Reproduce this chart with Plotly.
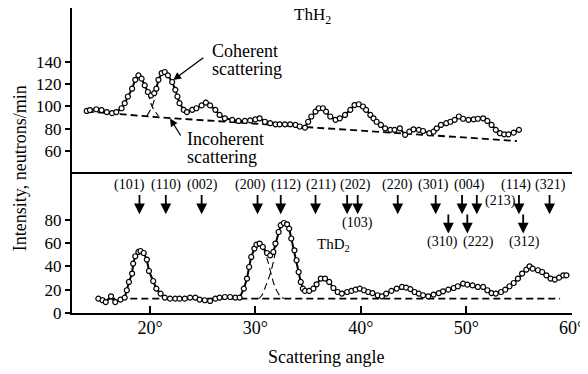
import plotly.graph_objects as go

# ThH2 pattern (upper panel)
thh2_angle = [14.0, 14.3, 14.9, 15.4, 15.9, 16.4, 16.8, 17.3, 17.6, 17.9, 18.3, 18.6,
              18.9, 19.2, 19.5, 19.8, 20.1, 20.4, 20.6, 20.8, 21.1, 21.4, 21.7, 22.1,
              22.4, 22.6, 22.8, 23.2, 23.5, 24.0, 24.4, 24.9, 25.3, 25.7, 26.2, 26.6,
              27.1, 27.8, 28.4, 29.0, 29.5, 30.0, 30.4, 30.9, 31.4, 31.9, 32.3, 32.8,
              33.3, 33.8, 34.2, 34.7, 35.0, 35.3, 35.7, 36.0, 36.4, 36.7, 37.1, 37.6,
              38.0, 38.5, 39.0, 39.4, 39.8, 40.2, 40.5, 40.9, 41.2, 41.5, 41.9, 42.3,
              42.8, 43.2, 43.7, 44.2, 44.6, 45.0, 45.5, 45.9, 46.5, 46.9, 47.2, 47.6,
              48.1, 48.5, 48.9, 49.3, 49.7, 50.2, 50.7, 51.1, 51.6, 52.0, 52.4, 52.8,
              53.2, 53.6, 54.0, 54.5, 55.0]
thh2_count = [96, 96.8, 97.5, 96.8, 95, 94, 95, 98.4, 103, 109, 116, 124,
              128, 125, 119, 113, 110, 112, 116, 124, 130, 131, 128, 122,
              115, 109, 103, 97, 95, 97, 98.4, 101, 103.5, 101, 97, 92.4,
              89.4, 88, 87, 87, 87.5, 88.5, 89.4, 86.3, 85, 84, 84, 84,
              84, 83.4, 82, 81, 86.3, 91, 95.4, 98.4, 98.4, 95.4, 91, 88,
              89.4, 92.4, 97, 101.3, 102, 100, 97, 92.4, 89.4, 86.3, 83.4, 80.4,
              79, 79, 80.4, 74.5, 77.4, 79.5, 79, 78, 76, 77.4, 80.4, 83.4,
              85, 86.3, 88, 91, 89, 88, 88.5, 89, 89.4, 87, 83.4, 79,
              76, 75, 75, 76.5, 79]
thh2_incoh_angle = [14.0, 21.3, 54.8]
thh2_incoh_count = [95.5, 90, 69]
thh2_peak1_angle = [19.8, 20.2, 20.8]
thh2_peak1_count = [113, 100, 91.5]
thh2_peak2_angle = [19.7, 20.2, 20.6]
thh2_peak2_count = [91.5, 100, 113]

# ThD2 pattern (lower panel)
thd2_angle = [15.1, 15.5, 15.8, 16.3, 16.7, 17.2, 17.6, 17.8, 18.0, 18.3, 18.4, 18.6,
              18.9, 19.1, 19.4, 19.7, 19.9, 20.3, 20.6, 21.0, 21.4, 21.9, 22.4, 22.8,
              23.3, 23.8, 24.3, 24.7, 25.2, 25.7, 26.2, 26.6, 27.1, 27.6, 28.1, 28.5,
              28.9, 29.2, 29.4, 29.6, 29.9, 30.1, 30.4, 30.7, 31.1, 31.4, 31.7, 31.9,
              32.2, 32.4, 32.7, 33.0, 33.2, 33.4, 33.7, 33.9, 34.1, 34.3, 34.5, 34.7,
              35.1, 35.5, 35.8, 36.2, 36.6, 37.0, 37.4, 37.8, 38.2, 38.7, 39.1, 39.5,
              39.9, 40.3, 40.7, 41.1, 41.6, 42.0, 42.4, 42.9, 43.4, 43.9, 44.3, 44.7,
              45.1, 45.5, 45.9, 46.4, 46.9, 47.4, 47.8, 48.3, 48.8, 49.2, 49.7, 50.1,
              50.6, 51.1, 51.6, 52.0, 52.4, 52.8, 53.3, 53.7, 54.1, 54.5, 54.9, 55.3,
              55.7, 56.0, 56.3, 56.8, 57.2, 57.6, 58.0, 58.4, 58.8, 59.2, 59.5]
thd2_count = [12.3, 10.9, 9.4, 14.3, 9.4, 11.5, 13.2, 19.5, 26.6, 33.8, 42.3, 48.6,
              52.3, 53.1, 51.4, 45.8, 36, 27.4, 20.9, 16.6, 13.2, 12.3, 12.3, 12.3,
              12.3, 13.2, 13.2, 11.5, 10.9, 10.3, 12.3, 13.2, 13.7, 13.7, 13.2, 13.2,
              20.9, 29.5, 39.4, 48, 55.2, 58.6, 59.5, 56.6, 51.4, 49.4, 52.3, 59.5,
              69.4, 75.2, 77.1, 76, 72.3, 63.8, 53.7, 45.2, 35.1, 26.6, 20.9, 18.9,
              18.9, 20.9, 24.6, 29.5, 29.5, 26.6, 21.4, 18, 16.6, 18, 18.9, 20,
              20.9, 19.5, 18, 17.1, 15.2, 14.3, 16.6, 18.9, 20.9, 22.3, 21.7, 20.5,
              18, 16.6, 15.2, 14.3, 15.8, 17.1, 18.6, 20, 21.4, 22.9, 25.2, 24.3,
              23.7, 22.3, 22.3, 19.5, 17.1, 16.6, 18, 20, 22.9, 25.7, 29.5, 33.8,
              37.2, 40, 38, 36.6, 35.1, 32.3, 29.5, 28.6, 30.3, 32.3, 32.3]
thd2_incoh_angle = [15.0, 58.9]
thd2_incoh_count = [12.3, 12.3]
thd2_peak1_angle = [30.7, 31.1, 31.45, 31.8, 32.3, 32.7]
thd2_peak1_count = [56.6, 46.6, 35, 23.7, 15, 12.3]
thd2_peak2_angle = [30.3, 30.6, 31.0, 31.45, 31.8, 32.0]
thd2_peak2_count = [12.3, 15, 23.7, 35, 48, 59.5]

# reflections
hkl = ['(101)', '(110)', '(002)', '(200)', '(112)', '(211)', '(202)', '(103)', '(220)',
       '(301)', '(310)', '(004)', '(222)', '(213)', '(114)', '(312)', '(321)']
hkl_angle = [19.0, 21.5, 24.9, 30.2, 32.4, 35.7, 38.7, 39.7, 43.5,
             47.1, 48.3, 49.6, 50.1, 51.0, 55.0, 55.4, 57.9]
hkl_low = [0, 0, 0, 0, 0, 0, 0, 0, 0, 0, 1, 0, 1, 0, 0, 1, 0]
label_x = [18.05, 21.5, 24.95, 29.5, 32.9, 36.25, 39.5, 39.7, 43.5,
           46.9, 47.7, 50.3, 51.2, 53.2, 54.7, 55.5, 58.0]
label_y = [109.4, 109.4, 109.4, 109.4, 109.4, 109.4, 109.4, 76.9, 109.4,
           109.4, 60.8, 109.4, 60.8, 96, 109.4, 60.8, 109.4]

x_ticks = [20, 30, 40, 50, 60]
top_ticks = [60, 80, 100, 120, 140]
bot_ticks = [0, 20, 40, 60, 80]

FONT = 'Liberation Serif, Times New Roman, serif'

fig = go.Figure()


def curve(x, y, xa, ya):
    fig.add_trace(go.Scatter(x=x, y=y, xaxis=xa, yaxis=ya, mode='lines+markers',
                             line=dict(color='black', width=2),
                             marker=dict(symbol='circle', size=5, color='white',
                                         line=dict(color='black', width=1.2)),
                             showlegend=False))


def dashed(x, y, xa, ya, w=1.8, spline=False):
    fig.add_trace(go.Scatter(x=x, y=y, xaxis=xa, yaxis=ya, mode='lines',
                             line=dict(color='black', width=w, dash='7px,4px',
                                       shape='spline' if spline else 'linear'),
                             showlegend=False))


dashed(thh2_incoh_angle, thh2_incoh_count, 'x2', 'y2')
dashed(thh2_peak1_angle, thh2_peak1_count, 'x2', 'y2', 1.1, True)
dashed(thh2_peak2_angle, thh2_peak2_count, 'x2', 'y2', 1.1, True)
curve(thh2_angle, thh2_count, 'x2', 'y2')

dashed(thd2_incoh_angle, thd2_incoh_count, 'x', 'y')
dashed(thd2_peak1_angle, thd2_peak1_count, 'x', 'y', 1.1, True)
dashed(thd2_peak2_angle, thd2_peak2_count, 'x', 'y', 1.1, True)
curve(thd2_angle, thd2_count, 'x', 'y')

ann = []
for name, a, low, lx, ly in zip(hkl, hkl_angle, hkl_low, label_x, label_y):
    tail, head = (85.7, 68.0) if low else (102.3, 84.6)
    ann.append(dict(x=a, y=head, ax=a, ay=tail, xref='x', yref='y', axref='x', ayref='y',
                    text='', showarrow=True, arrowhead=2, arrowsize=1.2, arrowwidth=1.8,
                    arrowcolor='black'))
    ann.append(dict(x=lx, y=ly, xref='x', yref='y', text=name, showarrow=False,
                    font=dict(size=14)))

ann += [
    dict(x=35.4, y=181.3, xref='x2', yref='y2', text='ThH<sub>2</sub>', showarrow=False,
         font=dict(size=17)),
    dict(x=37.4, y=58, xref='x', yref='y', text='ThD<sub>2</sub>', showarrow=False,
         font=dict(size=15)),
    dict(x=25.7, y=150.2, xref='x2', yref='y2', text='Coherent', showarrow=False,
         xanchor='left', font=dict(size=18)),
    dict(x=25.7, y=133.4, xref='x2', yref='y2', text='scattering', showarrow=False,
         xanchor='left', font=dict(size=18)),
    dict(x=23.3, y=70.5, xref='x2', yref='y2', text='Incoherent', showarrow=False,
         xanchor='left', font=dict(size=18)),
    dict(x=23.3, y=54.9, xref='x2', yref='y2', text='scattering', showarrow=False,
         xanchor='left', font=dict(size=18)),
    dict(x=22.2, y=123.8, ax=25.2, ay=144.8, xref='x2', yref='y2', axref='x2', ayref='y2',
         text='', showarrow=True, arrowhead=2, arrowsize=1.2, arrowwidth=1.3,
         arrowcolor='black'),
    dict(x=21.9, y=89.2, ax=23.0, ay=72.6, xref='x2', yref='y2', axref='x2', ayref='y2',
         text='', showarrow=True, arrowhead=2, arrowsize=1.2, arrowwidth=1.3,
         arrowcolor='black'),
    dict(x=-0.104, y=0.475, xref='paper', yref='paper', text='Intensity, neutrons/min',
         textangle=-90, showarrow=False, xanchor='center', yanchor='middle',
         font=dict(size=18)),
    dict(x=0.507, y=-0.144, xref='paper', yref='paper', text='Scattering angle',
         showarrow=False, xanchor='center', yanchor='middle', font=dict(size=18)),
]

# page body has an 8px margin, so the figure is 8px smaller than the window
split = 0.4557
axis_common = dict(showline=True, linecolor='black', showgrid=False, zeroline=False,
                   tickcolor='black')

fig.update_layout(
    width=580, height=366,
    margin=dict(l=64, r=16, t=0, b=61),
    paper_bgcolor='white', plot_bgcolor='white',
    font=dict(family=FONT, color='black', size=17),
    showlegend=False,
    xaxis=dict(domain=[0, 1], range=[12.6, 60.03], anchor='y', linewidth=2, mirror=True,
               ticks='inside', ticklen=7, tickwidth=2, tickvals=x_ticks,
               ticktext=[f'{t}°' for t in x_ticks], tickfont=dict(size=18),
               ticklabelstandoff=-3, ticklabeloverflow='allow', **axis_common),
    yaxis=dict(domain=[0, split], range=[0, 119.06], anchor='x', linewidth=2,
               ticks='outside', ticklen=5, tickwidth=1.5, tickvals=bot_ticks, **axis_common),
    xaxis2=dict(domain=[0, 1], range=[12.6, 60.03], anchor='y2', visible=False),
    yaxis2=dict(domain=[split, 1], range=[39.33, 188.5], anchor='x2', linewidth=2,
                ticks='outside', ticklen=5, tickwidth=1.5, tickvals=top_ticks, **axis_common),
    annotations=ann,
)

fig.write_html("out.html")
